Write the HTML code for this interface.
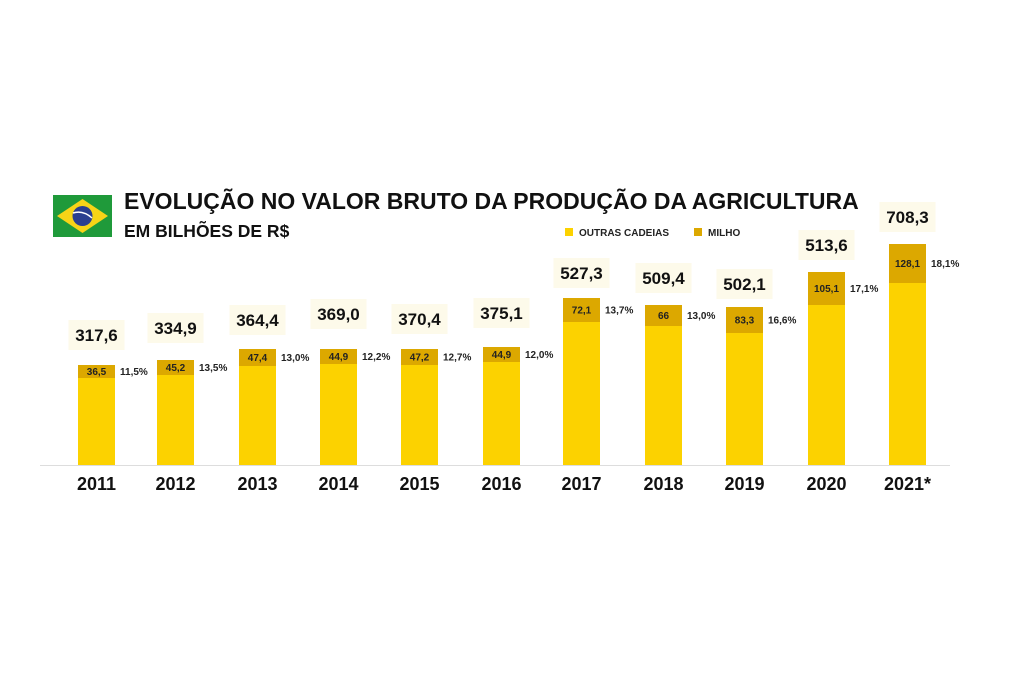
<!DOCTYPE html>
<html><head><meta charset="utf-8"><style>
html,body{margin:0;padding:0;background:#fff;}
svg{display:block;font-family:"Liberation Sans",sans-serif;}
</style></head><body>
<svg width="1024" height="697" viewBox="0 0 1024 697" xmlns="http://www.w3.org/2000/svg">
<rect width="1024" height="697" fill="#fff"/>
<!-- flag -->
<rect x="53" y="195" width="59" height="42" fill="#1f9a3a"/>
<polygon points="57,216 82.5,199 108,216 82.5,233" fill="#f7d417"/>
<circle cx="82.5" cy="216" r="10" fill="#2a3f8f"/>
<path d="M73,213 Q83,210 92,218" stroke="#fff" stroke-width="1.5" fill="none"/>
<text x="124" y="209" font-size="23" font-weight="bold" fill="#111">EVOLUÇÃO NO VALOR BRUTO DA PRODUÇÃO DA AGRICULTURA</text>
<text x="124" y="237" font-size="17.5" font-weight="bold" fill="#111">EM BILHÕES DE R$</text>
<!-- legend -->
<rect x="565" y="228" width="8" height="8" fill="#fcd200"/>
<text x="579" y="236" font-size="10" font-weight="bold" fill="#222">OUTRAS CADEIAS</text>
<rect x="694" y="228" width="8" height="8" fill="#dca800"/>
<text x="708" y="236" font-size="10" font-weight="bold" fill="#222">MILHO</text>
<line x1="40" y1="465.5" x2="950" y2="465.5" stroke="#ddd" stroke-width="1"/>
<g id="bars"></g>
</svg>
<script>
var d=[
["2011",78,365,378,"317,6",335,"36,5","11,5%"],
["2012",157,360,375,"334,9",328,"45,2","13,5%"],
["2013",239,349,366,"364,4",320,"47,4","13,0%"],
["2014",320,349,364,"369,0",314,"44,9","12,2%"],
["2015",401,349,365,"370,4",319,"47,2","12,7%"],
["2016",483,347,362,"375,1",313,"44,9","12,0%"],
["2017",563,298,322,"527,3",273,"72,1","13,7%"],
["2018",645,305,326,"509,4",278,"66","13,0%"],
["2019",726,307,333,"502,1",284,"83,3","16,6%"],
["2020",808,272,305,"513,6",245,"105,1","17,1%"],
["2021*",889,244,283,"708,3",217,"128,1","18,1%"]];
var ns="http://www.w3.org/2000/svg",g=document.getElementById("bars"),h="";
d.forEach(function(r){
 var x=r[1],w=37,c=x+w/2;
 h+='<rect x="'+x+'" y="'+r[3]+'" width="'+w+'" height="'+(465-r[3])+'" fill="#fcd200"/>';
 h+='<rect x="'+x+'" y="'+r[2]+'" width="'+w+'" height="'+(r[3]-r[2])+'" fill="#dca800"/>';
 h+='<text x="'+c+'" y="'+((r[2]+r[3])/2+3.5)+'" font-size="10" font-weight="bold" text-anchor="middle" fill="#222">'+r[6]+'</text>';
 h+='<text x="'+(x+w+5)+'" y="'+((r[2]+r[3])/2+3.5)+'" font-size="10" font-weight="bold" fill="#222">'+r[7]+'</text>';
 h+='<rect x="'+(c-28)+'" y="'+(r[5]-15)+'" width="56" height="30" fill="#fdfaea"/>';
 h+='<text x="'+c+'" y="'+(r[5]+6)+'" font-size="17" font-weight="bold" text-anchor="middle" fill="#111">'+r[4]+'</text>';
 h+='<text x="'+c+'" y="'+490+'" font-size="18" font-weight="bold" text-anchor="middle" fill="#111">'+r[0]+'</text>';
});
g.innerHTML=h;
</script>
</body></html>
